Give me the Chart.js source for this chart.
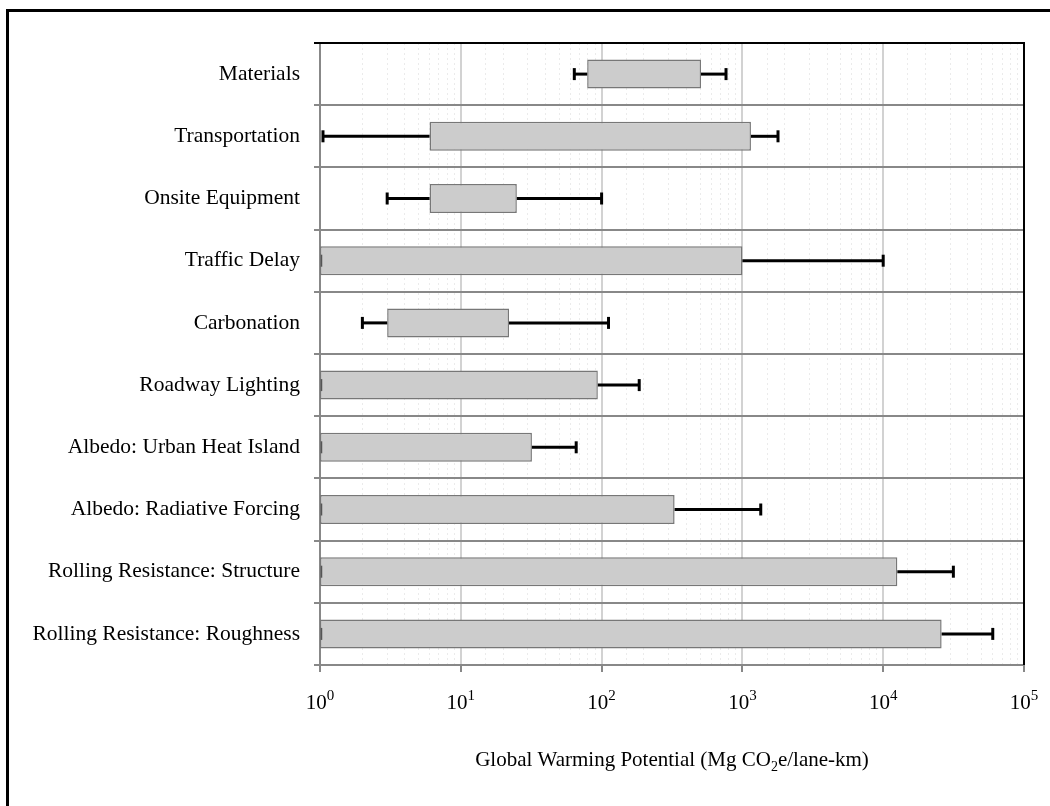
<!DOCTYPE html>
<html>
<head>
<meta charset="utf-8">
<script src="https://cdn.jsdelivr.net/npm/chart.js@4.4.1/dist/chart.umd.min.js"></script>
<style>
  html, body { margin: 0; padding: 0; background: #fff; overflow: hidden; }
  #frame { position: absolute; left: 6px; top: 9px; width: 1200px; height: 1000px; border: 3px solid #000; }
  #wrap { position: absolute; left: 0; top: 0; width: 1050px; height: 806px; }
</style>
</head>
<body>
<div id="frame"></div>
<div id="wrap"><canvas id="chart" width="1050" height="806"></canvas></div>
<script>
// categories, top to bottom
const categories = [
    'Materials',
    'Transportation',
    'Onsite Equipment',
    'Traffic Delay',
    'Carbonation',
    'Roadway Lighting',
    'Albedo: Urban Heat Island',
    'Albedo: Radiative Forcing',
    'Rolling Resistance: Structure',
    'Rolling Resistance: Roughness'
];
// box (bar) ends, Mg CO2e/lane-km
const barLow = [79, 6, 6, 1, 3, 1, 1, 1, 1, 1];
const barHigh = [508, 1150, 25, 1000, 22, 94, 32, 330, 12600, 26000];
// whisker ends
const whiskerLow = [64, 1.05, 3, 1, 2, 1, 1, 1, 1, 1];
const whiskerHigh = [765, 1790, 100, 10000, 112, 185, 66, 1350, 31500, 60000];
// x tick labels 10^n
const xTickExponents = [0, 1, 2, 3, 4, 5];

const SERIF = '"Liberation Serif", "Times New Roman", serif';

function isDecade(v) {
    const l = Math.log10(v);
    return Math.abs(l - Math.round(l)) < 1e-9;
}

// whiskers with caps
const whiskerPlugin = {
    id: 'whiskers',
    afterDatasetsDraw(chart) {
        const ctx = chart.ctx;
        const x = chart.scales.x;
        const meta = chart.getDatasetMeta(0);
        ctx.save();
        ctx.lineWidth = 3;
        meta.data.forEach((bar, i) => {
            const y = bar.y;
            ctx.strokeStyle = '#000';
            const segs = [[whiskerLow[i], barLow[i]], [barHigh[i], whiskerHigh[i]]];
            segs.forEach(([a, b]) => {
                if (a === b) return;
                ctx.beginPath();
                ctx.moveTo(x.getPixelForValue(a), y);
                ctx.lineTo(x.getPixelForValue(b), y);
                ctx.stroke();
            });
            [whiskerLow[i], whiskerHigh[i]].forEach((v, k) => {
                const px = x.getPixelForValue(v);
                // a cap sitting on the bar edge shows only as a faint mark
                const hidden = k === 0 && v === barLow[i];
                ctx.strokeStyle = hidden ? '#555' : '#000';
                ctx.lineWidth = hidden ? 1.5 : 3;
                ctx.beginPath();
                ctx.moveTo(hidden ? px + 1.5 : px, y - 6);
                ctx.lineTo(hidden ? px + 1.5 : px, y + 6);
                ctx.stroke();
            });
            ctx.lineWidth = 3;
        });
        ctx.restore();
    }
};

// plot frame, power-of-ten tick labels, axis title
const decorPlugin = {
    id: 'decor',
    afterDraw(chart) {
        const ctx = chart.ctx;
        const a = chart.chartArea;
        const x = chart.scales.x;
        ctx.save();
        ctx.strokeStyle = '#000';
        ctx.lineWidth = 2;
        ctx.beginPath();
        ctx.moveTo(a.left - 6, a.top);
        ctx.lineTo(a.right, a.top);
        ctx.lineTo(a.right, a.bottom);
        ctx.stroke();

        ctx.fillStyle = '#000';
        ctx.textBaseline = 'alphabetic';
        ctx.textAlign = 'left';
        xTickExponents.forEach(e => {
            const px = x.getPixelForValue(Math.pow(10, e));
            ctx.font = '21px ' + SERIF;
            const w1 = ctx.measureText('10').width;
            ctx.font = '15px ' + SERIF;
            const w2 = ctx.measureText(String(e)).width;
            const start = px - (w1 + w2) / 2;
            ctx.font = '21px ' + SERIF;
            ctx.fillText('10', start, 709);
            ctx.font = '15px ' + SERIF;
            ctx.fillText(String(e), start + w1, 700);
        });

        const t1 = 'Global Warming Potential (Mg CO';
        const t2 = '2';
        const t3 = 'e/lane-km)';
        ctx.font = '21px ' + SERIF;
        const w1 = ctx.measureText(t1).width;
        const w3 = ctx.measureText(t3).width;
        ctx.font = '14px ' + SERIF;
        const w2 = ctx.measureText(t2).width;
        let sx = (a.left + a.right) / 2 - (w1 + w2 + w3) / 2;
        const by = 766;
        ctx.font = '21px ' + SERIF;
        ctx.fillText(t1, sx, by);
        ctx.font = '14px ' + SERIF;
        ctx.fillText(t2, sx + w1, by + 5);
        ctx.font = '21px ' + SERIF;
        ctx.fillText(t3, sx + w1 + w2, by);
        ctx.restore();
    }
};

const ctx = document.getElementById('chart').getContext('2d');
new Chart(ctx, {
    type: 'bar',
    data: {
        labels: categories,
        datasets: [{
            data: barLow.map((lo, i) => [lo, barHigh[i]]),
            backgroundColor: '#cccccc',
            borderColor: '#777777',
            borderWidth: 1.5,
            borderSkipped: false,
            barPercentage: 0.466,
            categoryPercentage: 1
        }]
    },
    options: {
        indexAxis: 'y',
        responsive: false,
        animation: false,
        devicePixelRatio: 1,
        layout: { padding: { top: 43, right: 26, left: 0, bottom: 0 } },
        plugins: { legend: { display: false }, tooltip: { enabled: false } },
        scales: {
            x: {
                type: 'logarithmic',
                min: 1,
                max: 100000,
                afterFit(scale) { scale.height = 141; },
                grid: {
                    color: c => (c.tick && isDecade(c.tick.value)) ? '#d2d2d2' : '#ebebeb',
                    lineWidth: c => (c.tick && isDecade(c.tick.value)) ? 2 : 1,
                    tickColor: c => (c.tick && isDecade(c.tick.value)) ? '#888888' : 'rgba(0,0,0,0)',
                    tickLength: 7
                },
                border: {
                    color: '#888888',
                    width: 2,
                    dash: c => (c.tick && !isDecade(c.tick.value)) ? [2, 3] : []
                },
                ticks: {
                    autoSkip: false,
                    callback: () => ''
                }
            },
            y: {
                afterFit(scale) { scale.width = 320; },
                grid: {
                    color: '#888888',
                    lineWidth: 2,
                    tickLength: 6,
                    offset: true
                },
                border: { color: '#888888', width: 2 },
                ticks: {
                    color: '#000',
                    padding: 14,
                    font: { family: SERIF, size: 21.5 }
                }
            }
        }
    },
    plugins: [whiskerPlugin, decorPlugin]
});
</script>
</body>
</html>
